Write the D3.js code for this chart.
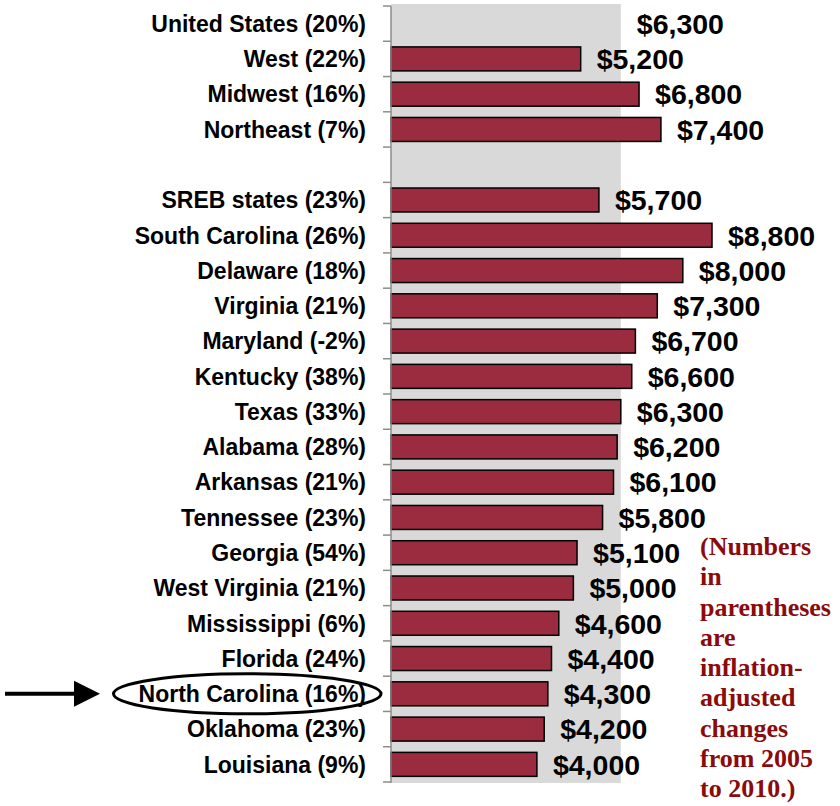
<!DOCTYPE html>
<html>
<head>
<meta charset="utf-8">
<script src="https://cdn.jsdelivr.net/npm/d3@7"></script>
<style>
  html, body { margin: 0; padding: 0; background: #fff; }
</style>
</head>
<body>
<svg id="chart"></svg>
<script>
// row names, change 2005-2010 and tuition values ("" is the spacer row)
const names = ["United States", "West", "Midwest", "Northeast", "",
  "SREB states", "South Carolina", "Delaware", "Virginia", "Maryland", "Kentucky",
  "Texas", "Alabama", "Arkansas", "Tennessee", "Georgia", "West Virginia",
  "Mississippi", "Florida", "North Carolina", "Oklahoma", "Louisiana"];
const changes = ["20%", "22%", "16%", "7%", "",
  "23%", "26%", "18%", "21%", "-2%", "38%",
  "33%", "28%", "21%", "23%", "54%", "21%",
  "6%", "24%", "16%", "23%", "9%"];
const values = [6300, 5200, 6800, 7400, null,
  5700, 8800, 8000, 7300, 6700, 6600,
  6300, 6200, 6100, 5800, 5100, 5000,
  4600, 4400, 4300, 4200, 4000];
const note = ["(Numbers", "in", "parentheses", "are", "inflation-",
  "adjusted", "changes", "from 2005", "to 2010.)"];
const highlight = "North Carolina";

const width = 840, height = 806;
const marginTop = 6, marginBottom = 24, axisX = 391;
const barColor = "#9b2c3f";

const svg = d3.select("#chart")
  .attr("width", width)
  .attr("height", height)
  .attr("viewBox", [0, 0, width, height]);

const keys = d3.range(names.length);
const x = d3.scaleLinear([0, 8800], [axisX, 712]);
const y = d3.scaleBand(keys, [marginTop, height - marginBottom])
  .paddingInner(0.32)
  .paddingOuter(0.16);
const step = y.step();

// grey band = United States value, full height
svg.append("rect")
  .attr("x", x(0))
  .attr("y", marginTop - 2)
  .attr("width", x(values[0]) - x(0))
  .attr("height", height - marginBottom - marginTop + 3)
  .attr("fill", "#d9d9d9");

// bars (skip US and spacer)
const barRows = keys.filter(i => i > 0 && values[i] != null);
svg.append("g")
  .selectAll("rect")
  .data(barRows)
  .join("rect")
  .attr("x", x(0))
  .attr("y", i => y(i))
  .attr("width", i => x(values[i]) - x(0))
  .attr("height", y.bandwidth())
  .attr("fill", barColor)
  .attr("stroke", "#000")
  .attr("stroke-width", 1.5);

// axis line + ticks at row boundaries
const axis = svg.append("g").attr("stroke", "#8c8c8c").attr("stroke-width", 1.5);
axis.append("line")
  .attr("x1", axisX).attr("x2", axisX)
  .attr("y1", marginTop).attr("y2", height - marginBottom + 1);
axis.selectAll("line.tick")
  .data(d3.range(names.length + 1))
  .join("line")
  .attr("class", "tick")
  .attr("x1", axisX - 8).attr("x2", axisX)
  .attr("y1", i => marginTop + i * step)
  .attr("y2", i => marginTop + i * step);

// category labels
const labels = svg.append("g")
  .attr("font-family", "'Liberation Sans', Arial, sans-serif")
  .attr("font-weight", "bold")
  .attr("font-size", 23)
  .attr("text-anchor", "end")
  .selectAll("text")
  .data(keys.filter(i => names[i] !== ""))
  .join("text")
  .attr("x", 366)
  .attr("y", i => y(i) + y.bandwidth() / 2)
  .attr("dy", "0.36em")
  .text(i => `${names[i]} (${changes[i]})`);

// value labels
svg.append("g")
  .attr("font-family", "'Liberation Sans', Arial, sans-serif")
  .attr("font-weight", "bold")
  .attr("font-size", 28.5)
  .selectAll("text")
  .data(keys.filter(i => values[i] != null))
  .join("text")
  .attr("x", i => x(values[i]) + 16)
  .attr("y", i => y(i) + y.bandwidth() / 2)
  .attr("dy", "0.36em")
  .text(i => "$" + d3.format(",")(values[i]));

// highlight ellipse + arrow
const hi = names.indexOf(highlight);
const hiNode = labels.filter(i => i === hi).node();
const bb = hiNode.getBBox();
const cy = y(hi) + y.bandwidth() / 2;
svg.append("ellipse")
  .attr("cx", bb.x + bb.width / 2 - 5)
  .attr("cy", cy)
  .attr("rx", bb.width / 2 + 20)
  .attr("ry", 20)
  .attr("fill", "none")
  .attr("stroke", "#000")
  .attr("stroke-width", 3);
svg.append("line")
  .attr("x1", 5).attr("x2", 78)
  .attr("y1", cy).attr("y2", cy)
  .attr("stroke", "#000")
  .attr("stroke-width", 4);
svg.append("path")
  .attr("d", `M74,${cy - 13}L100,${cy}L74,${cy + 13}Z`)
  .attr("fill", "#000");

// note
svg.append("text")
  .attr("font-family", "'Liberation Serif', 'Times New Roman', serif")
  .attr("font-weight", "bold")
  .attr("font-size", 26)
  .attr("fill", "#8b0a0a")
  .selectAll("tspan")
  .data(note)
  .join("tspan")
  .attr("x", 700)
  .attr("y", (d, i) => 555 + i * 30.25)
  .text(d => d);
</script>
</body>
</html>
